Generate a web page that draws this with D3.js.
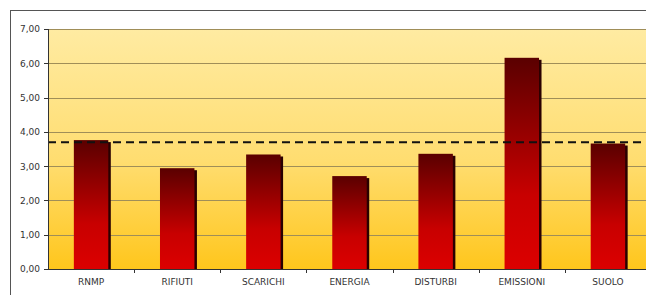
<!DOCTYPE html>
<meta charset="utf-8">
<style>
body { margin: 0; background: #fff; }
.axis text { font: 9px "DejaVu Sans", Verdana, sans-serif; fill: #333; }
.axis path, .axis line { fill: none; stroke: #333; shape-rendering: crispEdges; }
.grid line { stroke: #a08e58; stroke-width: 1; shape-rendering: crispEdges; }
</style>
<svg class="chart"></svg>
<script src="https://d3js.org/d3.v7.min.js"></script>
<script>

var categories = ["RNMP", "RIFIUTI", "SCARICHI", "ENERGIA", "DISTURBI", "EMISSIONI", "SUOLO"];
var values = [3.76, 2.94, 3.34, 2.71, 3.36, 6.16, 3.66];
var meanLine = 3.70;
var yTicks = [0, 1, 2, 3, 4, 5, 6, 7];

var W = 646, H = 295;
var margin = {top: 29, right: -5, bottom: 26, left: 48},
    width = W - margin.left - margin.right,
    height = H - margin.top - margin.bottom;

var svg = d3.select(".chart").attr("width", W).attr("height", H);

var defs = svg.append("defs");
var bg = defs.append("linearGradient").attr("id", "bg")
    .attr("x1", 0).attr("y1", 0).attr("x2", 0).attr("y2", 1);
bg.append("stop").attr("offset", "0%").attr("stop-color", "#ffeba2");
bg.append("stop").attr("offset", "55%").attr("stop-color", "#ffdd70");
bg.append("stop").attr("offset", "100%").attr("stop-color", "#ffc61c");

var barGrad = defs.append("linearGradient").attr("id", "bar")
    .attr("x1", 0).attr("y1", 0).attr("x2", 0).attr("y2", 1);
barGrad.append("stop").attr("offset", "0%").attr("stop-color", "#5a0000");
barGrad.append("stop").attr("offset", "65%").attr("stop-color", "#c80000");
barGrad.append("stop").attr("offset", "100%").attr("stop-color", "#dc0000");

// outer frame
svg.append("rect")
    .attr("x", 10.5).attr("y", 10.5)
    .attr("width", W).attr("height", H)
    .attr("fill", "#fff").attr("stroke", "#555");

var chart = svg.append("g")
    .attr("transform", "translate(" + margin.left + "," + margin.top + ")");

var x = d3.scaleBand().domain(categories).range([0, width]).paddingInner(0.6).paddingOuter(0.3);
var xb = d3.scaleBand().domain(categories).range([0, width]);
var y = d3.scaleLinear().domain([0, 7]).range([height, 0]);

var fmt = d3.formatLocale({decimal: ",", thousands: ".", grouping: [3], currency: ["", "€"]}).format(".2f");

chart.append("rect")
    .attr("width", width).attr("height", height)
    .attr("fill", "url(#bg)");

chart.append("g")
    .attr("class", "grid")
    .selectAll("line")
    .data(yTicks.slice(1))
    .enter()
    .append("line")
        .attr("x1", 0).attr("x2", width)
        .attr("y1", function(d){return Math.round(y(d)) + 0.5;})
        .attr("y2", function(d){return Math.round(y(d)) + 0.5;});

var bars = chart.append("g").selectAll("g")
    .data(values)
    .enter()
    .append("g");

bars.append("rect")
    .attr("x", function(d, i){return x(categories[i]) + 2.5;})
    .attr("y", function(d){return y(d) + 2;})
    .attr("width", x.bandwidth())
    .attr("height", function(d){return height - y(d) - 2;})
    .attr("fill", "#2a0000");

bars.append("rect")
    .attr("x", function(d, i){return x(categories[i]);})
    .attr("y", function(d){return y(d);})
    .attr("width", x.bandwidth())
    .attr("height", function(d){return height - y(d);})
    .attr("fill", "url(#bar)");

chart.append("line")
    .attr("x1", 0).attr("x2", width)
    .attr("y1", y(meanLine)).attr("y2", y(meanLine))
    .attr("stroke", "#111").attr("stroke-width", 2)
    .attr("stroke-dasharray", "8,5");

chart.append("g")
    .attr("class", "y axis")
    .call(d3.axisLeft(y).tickValues(yTicks).tickFormat(fmt).tickSize(4).tickPadding(4))
    .call(function(g){ g.select(".domain").attr("d", "M0.5," + height + "V0"); });

var xAxis = chart.append("g")
    .attr("class", "x axis")
    .attr("transform", "translate(0," + height + ")");

xAxis.append("line")
    .attr("x1", 0).attr("x2", width)
    .attr("y1", 0.5).attr("y2", 0.5);

xAxis.selectAll(".tk")
    .data(categories)
    .enter()
    .append("line")
        .attr("class", "tk")
        .attr("x1", function(d){return Math.round(xb(d) + xb.bandwidth()) + 0.5;})
        .attr("x2", function(d){return Math.round(xb(d) + xb.bandwidth()) + 0.5;})
        .attr("y1", 0).attr("y2", 4);

xAxis.selectAll("text")
    .data(categories)
    .enter()
    .append("text")
        .attr("x", function(d){return xb(d) + xb.bandwidth() / 2;})
        .attr("y", 16)
        .attr("text-anchor", "middle")
        .text(function(d){return d;});
</script>
